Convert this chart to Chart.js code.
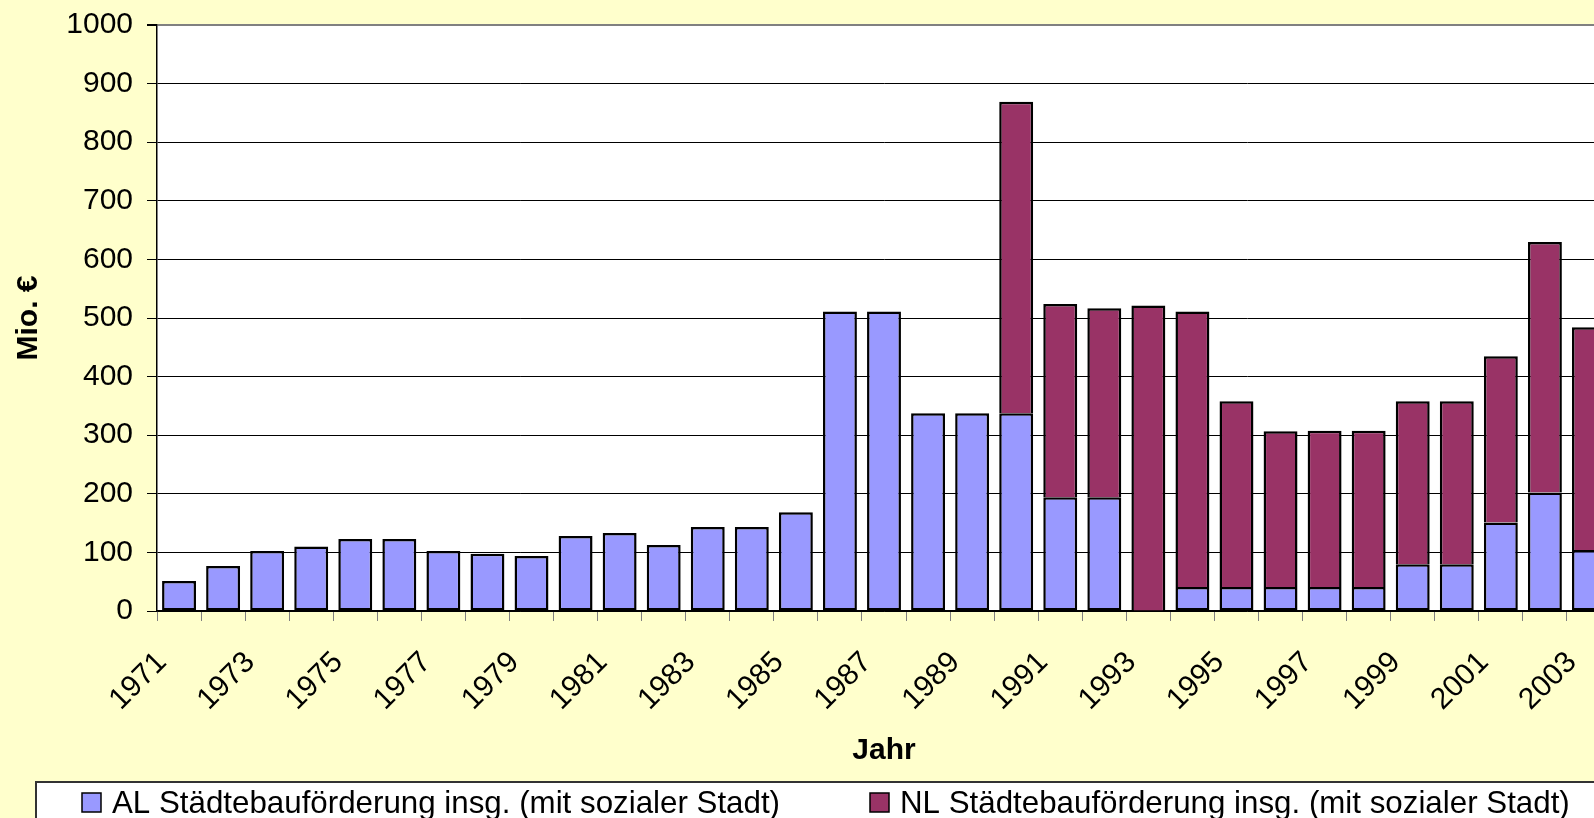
<!DOCTYPE html>
<html>
<head>
<meta charset="utf-8">
<title>Städtebauförderung</title>
<script src="https://cdn.jsdelivr.net/npm/chart.js"></script>
<style>
  html, body { margin: 0; padding: 0; overflow: hidden; background: #FFFFCC; }
  #wrap { position: absolute; left: 0; top: 0; width: 1671px; height: 830px; }
</style>
</head>
<body>
<div id="wrap"><canvas id="barGraph" width="1671" height="830"></canvas></div>
<script>
// years on the x axis (only every second one gets a label)
const years = ["1971", "1972", "1973", "1974", "1975", "1976", "1977", "1978", "1979", "1980",
  "1981", "1982", "1983", "1984", "1985", "1986", "1987", "1988", "1989", "1990",
  "1991", "1992", "1993", "1994", "1995", "1996", "1997", "1998", "1999", "2000",
  "2001", "2002", "2003"]

// Mio. € per year, alte Länder
const alValues = [51.1, 76.7, 102.3, 109.9, 122.7, 122.7, 102.3, 97.7, 93.8, 127.8,
  132.9, 112.5, 143.2, 143.2, 168.7, 511.3, 511.3, 337.5, 337.5, 337.5,
  194.3, 194.3, 0, 40.9, 40.9, 40.9, 40.9, 40.9, 79.8, 79.8,
  151, 202.3, 104.3]

// Mio. € per year, neue Länder (nothing before 1990)
const nlValues = [null, null, null, null, null, null, null, null, null, null,
  null, null, null, null, null, null, null, null, null, 531.7,
  329.5, 322.4, 521.4, 470.4, 317, 265.9, 266.7, 266.7, 278, 278,
  283.8, 427.3, 380]

const yTicks = [0, 100, 200, 300, 400, 500, 600, 700, 800, 900, 1000]

const seriesNames = ["AL Städtebauförderung insg. (mit sozialer Stadt)",
  "NL Städtebauförderung insg. (mit sozialer Stadt)"]
const seriesColors = ["#9999FF", "#993366"]

const fontFamily = "'Liberation Sans', Arial, sans-serif"

let barGraph

// white plot area on the yellow chart background
const plotBackground = {
  id: 'plotBackground',
  beforeDraw(chart) {
    const { ctx, chartArea } = chart
    ctx.save()
    ctx.fillStyle = '#FFFFFF'
    ctx.fillRect(chartArea.left, chartArea.top, chartArea.right - chartArea.left, chartArea.bottom - chartArea.top)
    ctx.restore()
  }
}

// boxed legend like in the excel sheet
const boxLegend = {
  id: 'boxLegend',
  afterDraw(chart) {
    const ctx = chart.ctx
    const left = 36, top = 782
    const right = chart.width - 36, bottom = chart.height - 4
    ctx.save()
    ctx.fillStyle = '#FFFFFF'
    ctx.fillRect(left, top, right - left, bottom - top)
    ctx.strokeStyle = '#333333'
    ctx.lineWidth = 2
    ctx.strokeRect(left, top, right - left, bottom - top)

    ctx.font = "31.3px " + fontFamily
    ctx.textBaseline = 'middle'
    ctx.textAlign = 'left'
    const midY = 803
    const starts = [left + 46, left + 834]
    chart.data.datasets.forEach(function (ds, i) {
      const x = starts[i]
      ctx.fillStyle = ds.backgroundColor
      ctx.fillRect(x, midY - 10, 19, 19)
      ctx.strokeStyle = '#000000'
      ctx.lineWidth = 1.5
      ctx.strokeRect(x, midY - 10, 19, 19)
      ctx.fillStyle = '#000000'
      ctx.fillText(ds.label, x + 30, midY + 1)
    })
    ctx.restore()
  }
}

function initChart() {
  barGraph = new Chart(document.getElementById("barGraph"), {
    type: 'bar',
    data: {
      labels: years,
      datasets: [
        {
          label: seriesNames[0],
          data: alValues,
          backgroundColor: seriesColors[0],
          borderColor: "#000000",
          borderWidth: 2.5,
          borderSkipped: false,
          barPercentage: 0.77,
          categoryPercentage: 1
        }, {
          label: seriesNames[1],
          data: nlValues,
          backgroundColor: seriesColors[1],
          borderColor: "#000000",
          borderWidth: 2.5,
          borderSkipped: 'start',
          barPercentage: 0.77,
          categoryPercentage: 1
        }
      ]
    },
    options: {
      responsive: false,
      animation: false,
      layout: { padding: { left: 0, top: 25, right: 60, bottom: 0 } },
      plugins: {
        legend: { display: false },
        tooltip: { enabled: false }
      },
      scales: {
        x: {
          stacked: true,
          offset: true,
          grid: {
            offset: true,
            drawOnChartArea: false,
            color: '#808080',
            tickLength: 10
          },
          border: { color: '#000000', width: 1.5 },
          ticks: {
            autoSkip: false,
            minRotation: 45,
            maxRotation: 45,
            padding: 24,
            labelOffset: -17,
            color: '#000000',
            font: { family: fontFamily, size: 30 },
            callback: function (value, index) {
              return index % 2 === 0 ? years[index] : ''
            }
          },
          title: {
            display: true,
            text: 'Jahr',
            color: '#000000',
            font: { family: fontFamily, size: 30, weight: 'bold' },
            padding: { top: 0, bottom: 61 }
          },
          afterFit: function (scale) { scale.height = 219 }
        },
        y: {
          stacked: true,
          min: 0,
          max: 1000,
          afterBuildTicks: function (scale) {
            scale.ticks = yTicks.map(v => ({ value: v }))
          },
          grid: {
            color: ctx => ctx.tick && ctx.tick.value === 1000 ? '#808080' : '#000000',
            lineWidth: ctx => ctx.tick && ctx.tick.value === 1000 ? 2 : 1,
            tickColor: '#000000',
            tickLength: 10
          },
          border: { color: '#000000', width: 1.5 },
          ticks: {
            padding: 14,
            color: '#000000',
            font: { family: fontFamily, size: 30 },
            callback: value => String(value)
          },
          title: {
            display: true,
            text: 'Mio. €',
            color: '#000000',
            font: { family: fontFamily, size: 30, weight: 'bold' },
            padding: { top: 11, bottom: 0 }
          },
          afterFit: function (scale) {
            scale.width = 157
            // the top label may stick out above the plot, like in excel
            scale.paddingTop = 0
            scale.paddingBottom = 0
          }
        }
      }
    },
    plugins: [plotBackground, boxLegend]
  });
}

initChart()
</script>
</body>
</html>
